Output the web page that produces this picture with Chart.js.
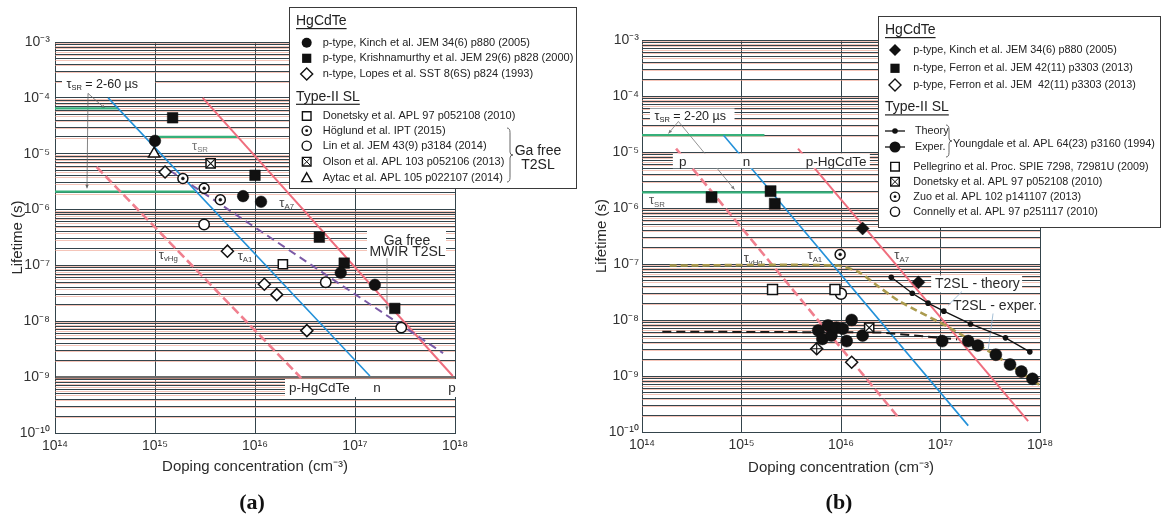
<!DOCTYPE html>
<html>
<head>
<meta charset="utf-8">
<script src="https://cdn.jsdelivr.net/npm/chart.js@4.4.0/dist/chart.umd.min.js"></script>
<style>
    body { margin: 0; background: #fff; width: 1161px; height: 515px; overflow: hidden; position: relative; }
    canvas { position: absolute; top: 0; }
    #chartA { left: 0; }
    #chartB { left: 580px; }
</style>
</head>
<body>
<canvas id="chartA" width="580" height="515"></canvas>
<canvas id="chartB" width="581" height="515"></canvas>
<script>
// ---- axes ----
const xDecades = [14, 15, 16, 17, 18];
const yDecades = [-10, -9, -8, -7, -6, -5, -4, -3];

// ---- panel (a) data: [doping cm-3, lifetime s] ----
const aKinch = [[1.0e15, 1.7e-5], [7.6e15, 1.74e-6], [1.15e16, 1.38e-6], [7.2e16, 7.4e-8], [1.58e17, 4.5e-8]];
const aKrishnamurthy = [[1.5e15, 4.4e-5], [1.0e16, 4.1e-6], [4.4e16, 3.2e-7], [7.8e16, 1.1e-7], [2.5e17, 1.7e-8]];
const aLopes = [[1.26e15, 4.7e-6], [5.3e15, 1.8e-7], [1.24e16, 4.6e-8], [1.65e16, 3.0e-8], [3.3e16, 6.8e-9]];
const aDonetsky = [[1.9e16, 1.05e-7]];
const aHoglund = [[1.9e15, 3.6e-6], [3.1e15, 2.4e-6], [4.5e15, 1.5e-6]];
const aLin = [[3.1e15, 5.4e-7], [5.1e16, 5.0e-8], [2.9e17, 7.7e-9]];
const aOlson = [[3.6e15, 6.7e-6]];
const aAytac = [[9.8e14, 1.0e-5]];

const aSRHigh = [[1e14, 6.5e-5], [4.3e14, 6.5e-5]];
const aSRMid = [[1e15, 2e-5], [6.6e15, 2e-5]];
const aSRLow = [[1e14, 2.1e-6], [2.5e15, 2.1e-6]];
const aTauA1 = [[3.4e14, 1e-4], [1.41e17, 1.05e-9]];
const aTauA7 = [[3.0e15, 1.0e-4], [9.5e17, 1.05e-9]];
const aTauVHg = [[2.6e14, 5.8e-6], [2.9e16, 9.6e-10]];
const aGaFreeTrend = [[1.41e15, 5.0e-6], [7.6e17, 2.7e-9]];

// ---- panel (b) data ----
const bKinch = [[1.65e16, 4.3e-7], [6.0e16, 4.7e-8]];
const bFerronN = [[5.0e14, 1.56e-6], [1.96e15, 2.0e-6], [2.16e15, 1.19e-6]];
const bFerronP = [[5.7e15, 3.06e-9], [1.28e16, 1.76e-9]];
const bTheory = [[3.2e16, 5.8e-8], [5.2e16, 3.0e-8], [7.5e16, 2.0e-8], [1.08e17, 1.44e-8], [2.0e17, 8.5e-9], [4.5e17, 4.8e-9], [7.9e17, 2.7e-9]];
const bExper = [[5.9e15, 6.5e-9], [7.4e15, 8.0e-9], [6.5e15, 4.6e-9], [8.0e15, 5.3e-9], [9.0e15, 7.3e-9], [1.04e16, 7.0e-9],
                [1.28e16, 1.0e-8], [1.14e16, 4.2e-9], [1.65e16, 5.3e-9], [1.04e17, 4.2e-9], [1.9e17, 4.2e-9], [2.37e17, 3.5e-9],
                [3.6e17, 2.4e-9], [5.0e17, 1.6e-9], [6.5e17, 1.2e-9], [8.4e17, 8.9e-10]];
const bPellegrino = [[2.05e15, 3.5e-8], [8.7e15, 3.5e-8]];
const bDonetsky = [[1.92e16, 7.3e-9]];
const bZuo = [[9.8e15, 1.48e-7]];
const bConnelly = [[1.0e16, 2.94e-8]];

const bSRHigh = [[1e14, 2.0e-5], [1.7e15, 2.0e-5]];
const bSRLow = [[1e14, 1.9e-6], [8.3e15, 1.9e-6]];
const bTauA1 = [[6.6e14, 2.0e-5], [1.9e17, 1.3e-10]];
const bTauVHg = [[2.2e14, 1.15e-5], [3.9e16, 1.7e-10]];
const bTauA7 = [[3.7e15, 1.15e-5], [7.6e17, 1.56e-10]];
const bT2SLExper = [[1.9e14, 9.4e-8], [9.0e15, 9.4e-8], [1.5e16, 7.2e-8], [2.46e16, 3.8e-8], [3.9e16, 2.14e-8],
                    [1.23e17, 7.3e-9], [4.0e17, 2.05e-9], [1e18, 6.8e-10]];
const bExperTrend = [[1.6e14, 6.2e-9], [2.46e16, 6.0e-9], [1.47e17, 4.5e-9]];

// ---- styles ----
const FONT = "'Liberation Sans', Arial, sans-serif";
const INK = '#111';
const GRID = '#34444b';
const TINT = 'rgba(236,150,128,0.55)';
const GREEN = '#35b07a', BLUE = '#2391d9', PINK = '#ef6e7e', PINK_D = '#f07f8e';
const PURPLE = '#7b5aa6', OLIVE = '#ab9b4e', LEADER = '#8fb0cc';

const SUP = { '0': '⁰', '1': '¹', '2': '²', '3': '³', '4': '⁴', '5': '⁵', '6': '⁶', '7': '⁷', '8': '⁸', '9': '⁹', '-': '⁻' };
const sup = n => String(n).split('').map(c => SUP[c]).join('');
const pts = arr => arr.map(([x, y]) => ({ x, y }));

function marks(data, style, r, filled, extra) {
    return Object.assign({
        data: pts(data), showLine: false, pointStyle: style, pointRadius: r, pointHoverRadius: r,
        pointBackgroundColor: filled ? INK : '#fff', pointBorderColor: INK, pointBorderWidth: filled ? 0.5 : 1.5
    }, extra || {});
}
function curve(data, color, width, dash, extra) {
    return Object.assign({
        data: pts(data), showLine: true, borderColor: color, borderWidth: width, borderDash: dash || [],
        pointRadius: 0, pointHoverRadius: 0, fill: false
    }, extra || {});
}

function yTicks() {
    const t = [];
    for (let e = yDecades[0]; e < yDecades[yDecades.length - 1]; e++)
        for (let m = 1; m < 10; m++) t.push({ value: m * Math.pow(10, e) });
    t.push({ value: Math.pow(10, yDecades[yDecades.length - 1]) });
    return t;
}
const isDecade = v => Math.abs(Math.log10(v) - Math.round(Math.log10(v))) < 1e-6;

// ---- drawing helpers ----
function tau(ctx, x, y, sub, size, color, tail, align) {
    const f1 = `${size}px ${FONT}`, f2 = `${(size * 0.6).toFixed(1)}px ${FONT}`;
    ctx.textBaseline = 'middle';
    ctx.textAlign = 'left';
    ctx.fillStyle = color;
    ctx.font = f1; const w1 = ctx.measureText('τ').width;
    const w3 = tail ? ctx.measureText(tail).width : 0;
    ctx.font = f2; const w2 = ctx.measureText(sub).width;
    const x0 = align === 'center' ? x - (w1 + w2 + w3) / 2 : x;
    ctx.font = f1; ctx.fillText('τ', x0, y);
    ctx.font = f2; ctx.fillText(sub, x0 + w1, y + size * 0.3);
    if (tail) { ctx.font = f1; ctx.fillText(tail, x0 + w1 + w2, y); }
}

function arrowHead(ctx, x0, y0, x1, y1) {
    const a = Math.atan2(y1 - y0, x1 - x0), L = 4;
    ctx.beginPath();
    ctx.moveTo(x1, y1);
    ctx.lineTo(x1 - L * Math.cos(a - 0.45), y1 - L * Math.sin(a - 0.45));
    ctx.lineTo(x1 - L * Math.cos(a + 0.45), y1 - L * Math.sin(a + 0.45));
    ctx.closePath();
    ctx.fill();
}

function drawAnnots(chart, list) {
    const { ctx, scales: { x, y } } = chart;
    const X = lx => x.getPixelForValue(Math.pow(10, lx));
    const Y = ly => y.getPixelForValue(Math.pow(10, ly));
    ctx.save();
    list.forEach(a => {
        if (a.t === 'box') {
            ctx.fillStyle = '#fff';
            ctx.fillRect(X(a.x1), Y(a.y1), X(a.x2) - X(a.x1), Y(a.y2) - Y(a.y1));
        } else if (a.t === 'text') {
            ctx.fillStyle = a.color || '#2a2a2a';
            ctx.font = `${a.size || 14}px ${FONT}`;
            ctx.textAlign = a.align || 'left';
            ctx.textBaseline = 'middle';
            ctx.fillText(a.text, X(a.lx), Y(a.ly));
        } else if (a.t === 'tau') {
            tau(ctx, X(a.lx), Y(a.ly), a.sub, a.size || 13, a.color || '#444', a.tail, a.align || 'center');
        } else if (a.t === 'line') {
            ctx.strokeStyle = a.color || '#777';
            ctx.fillStyle = a.color || '#777';
            ctx.lineWidth = a.width || 0.8;
            ctx.beginPath();
            a.pts.forEach(([lx, ly], i) => i ? ctx.lineTo(X(lx), Y(ly)) : ctx.moveTo(X(lx), Y(ly)));
            ctx.stroke();
            if (a.arrow) {
                const p = a.pts[a.pts.length - 2], q = a.pts[a.pts.length - 1];
                arrowHead(ctx, X(p[0]), Y(p[1]), X(q[0]), Y(q[1]));
            }
        }
    });
    ctx.restore();
}

function drawMark(ctx, k, x, y, r) {
    ctx.save();
    ctx.lineWidth = 1.4;
    ctx.strokeStyle = INK;
    ctx.fillStyle = INK;
    ctx.beginPath();
    if (k === 'dot') { ctx.arc(x, y, r, 0, 2 * Math.PI); ctx.fill(); }
    else if (k === 'sq') { ctx.fillRect(x - r, y - r, 2 * r, 2 * r); }
    else if (k === 'fdia' || k === 'odia') {
        ctx.moveTo(x, y - r); ctx.lineTo(x + r, y); ctx.lineTo(x, y + r); ctx.lineTo(x - r, y); ctx.closePath();
        if (k === 'fdia') ctx.fill(); else { ctx.fillStyle = '#fff'; ctx.fill(); ctx.stroke(); }
    }
    else if (k === 'osq' || k === 'xsq') {
        ctx.rect(x - r, y - r, 2 * r, 2 * r); ctx.stroke();
        if (k === 'xsq') {
            ctx.lineWidth = 1; ctx.beginPath();
            ctx.moveTo(x - r, y - r); ctx.lineTo(x + r, y + r); ctx.moveTo(x + r, y - r); ctx.lineTo(x - r, y + r); ctx.stroke();
        }
    }
    else if (k === 'ocir' || k === 'cdot') {
        ctx.arc(x, y, r, 0, 2 * Math.PI); ctx.stroke();
        if (k === 'cdot') { ctx.beginPath(); ctx.arc(x, y, 1.4, 0, 2 * Math.PI); ctx.fill(); }
    }
    else if (k === 'tri') {
        ctx.moveTo(x, y - r); ctx.lineTo(x + r * 0.9, y + r * 0.6); ctx.lineTo(x - r * 0.9, y + r * 0.6); ctx.closePath(); ctx.stroke();
    }
    else if (k === 'lineDot') {
        ctx.lineWidth = 1.3;
        ctx.moveTo(x - 10, y); ctx.lineTo(x + 10, y); ctx.stroke();
        ctx.beginPath(); ctx.arc(x, y, r, 0, 2 * Math.PI); ctx.fill();
    }
    ctx.restore();
}

function brace(ctx, x, y1, y2, w) {
    const m = (y1 + y2) / 2;
    ctx.beginPath();
    ctx.moveTo(x, y1);
    ctx.quadraticCurveTo(x + w, y1, x + w, y1 + w * 1.5);
    ctx.lineTo(x + w, m - w);
    ctx.quadraticCurveTo(x + w, m, x + 2 * w, m);
    ctx.quadraticCurveTo(x + w, m, x + w, m + w);
    ctx.lineTo(x + w, y2 - w * 1.5);
    ctx.quadraticCurveTo(x + w, y2, x, y2);
    ctx.stroke();
}

function drawLegend(ctx, L) {
    ctx.save();
    ctx.fillStyle = '#fff';
    ctx.fillRect(L.x, L.y, L.w, L.h);
    ctx.strokeStyle = '#3a3a3a';
    ctx.lineWidth = 1;
    ctx.strokeRect(L.x + 0.5, L.y + 0.5, L.w, L.h);
    ctx.textBaseline = 'middle';
    ctx.textAlign = 'left';
    L.rows.forEach(r => {
        ctx.fillStyle = '#222';
        if (r.head) {
            ctx.font = `14px ${FONT}`;
            ctx.fillText(r.head, L.hx, r.y);
            const w = ctx.measureText(r.head).width;
            ctx.fillRect(L.hx, r.y + 7, w, 1.2);
        } else {
            drawMark(ctx, r.mark, L.mx, r.y, r.r);
            ctx.fillStyle = '#222';
            ctx.font = `${L.size}px ${FONT}`;
            ctx.fillText(r.label, r.tx || L.tx, r.y);
        }
    });
    ctx.strokeStyle = '#555';
    ctx.lineWidth = 0.9;
    brace(ctx, L.brace.x, L.brace.y1, L.brace.y2, 3);
    ctx.fillStyle = '#222';
    L.notes.forEach(n => {
        ctx.font = `${n.size}px ${FONT}`;
        ctx.textAlign = n.align || 'left';
        ctx.fillText(n.text, n.x, n.y);
    });
    ctx.restore();
}

function makeDecor(p) {
    return {
        id: 'decor',
        beforeDatasetsDraw(chart) {
            const { ctx, chartArea: ca, scales: { y } } = chart;
            ctx.save();
            ctx.strokeStyle = TINT;
            ctx.lineWidth = 1;
            y.ticks.forEach(t => {
                const py = Math.round(y.getPixelForValue(t.value)) + 1.5;
                if (py > ca.bottom) return;
                ctx.beginPath(); ctx.moveTo(ca.left, py); ctx.lineTo(ca.right, py); ctx.stroke();
            });
            ctx.restore();
            drawAnnots(chart, p.annots.filter(a => !a.front));
        },
        afterDatasetsDraw(chart) {
            drawAnnots(chart, p.annots.filter(a => a.front));
        },
        afterDraw(chart) {
            const ctx = chart.ctx;
            drawLegend(ctx, p.legend);
            ctx.save();
            ctx.fillStyle = '#111';
            ctx.font = "bold 22px 'Liberation Serif', 'Times New Roman', serif";
            ctx.textAlign = 'center';
            ctx.textBaseline = 'middle';
            ctx.fillText(p.panel.text, p.panel.x, p.panel.y);
            ctx.restore();
        }
    };
}

function makeChart(id, p) {
    return new Chart(document.getElementById(id), {
        type: 'scatter',
        data: { datasets: p.datasets },
        options: {
            responsive: false,
            animation: false,
            events: [],
            layout: { padding: p.padding },
            plugins: { legend: { display: false }, tooltip: { enabled: false } },
            scales: {
                x: {
                    type: 'logarithmic', min: 1e14, max: 1e18,
                    afterBuildTicks: s => { s.ticks = xDecades.map(e => ({ value: Math.pow(10, e) })); },
                    afterFit: s => { s.height = 50; },
                    grid: { color: GRID, lineWidth: 1, drawTicks: false },
                    border: { color: GRID, width: 1 },
                    ticks: {
                        autoSkip: false, maxRotation: 0, padding: 5, color: '#333', font: { family: FONT, size: 14 },
                        callback: v => '10' + sup(Math.round(Math.log10(v)))
                    },
                    title: {
                        display: true, text: 'Doping concentration (cm⁻³)', color: '#2a2a2a',
                        font: { family: FONT, size: 15 }, padding: { top: 0, bottom: p.xTitlePad }
                    }
                },
                y: {
                    type: 'logarithmic', min: 1e-10, max: 1e-3,
                    afterBuildTicks: s => { s.ticks = yTicks(); },
                    afterFit: s => { s.width = p.yWidth; },
                    grid: {
                        drawTicks: false,
                        color: c => (p.thick && c.tick && Math.abs(Math.log10(c.tick.value) - p.thick) < 1e-6) ? '#6d6d6d' : GRID,
                        lineWidth: c => (p.thick && c.tick && Math.abs(Math.log10(c.tick.value) - p.thick) < 1e-6) ? 3 : 1
                    },
                    border: { color: GRID, width: 1 },
                    ticks: {
                        autoSkip: false, padding: p.yTickPad, color: '#333', font: { family: FONT, size: 14 },
                        callback: v => isDecade(v) ? '10' + sup(Math.round(Math.log10(v))) : ''
                    },
                    title: {
                        display: true, text: 'Lifetime (s)', color: '#2a2a2a',
                        font: { family: FONT, size: 15 }, padding: { top: 0, bottom: 0 }
                    }
                }
            }
        },
        plugins: [makeDecor(p)]
    });
}

// ---- panel (a) ----
makeChart('chartA', {
    padding: { left: 9, top: 42, right: 125, bottom: 32 },
    yWidth: 46, yTickPad: 5, xTitlePad: 7, thick: -9,
    datasets: [
        marks(aHoglund, 'circle', 1.5, true),
        marks(aHoglund, 'circle', 5, false),
        marks(aOlson, 'crossRot', 6.5, false, { pointBorderWidth: 1.1 }),
        marks(aOlson, 'rect', 6.5, false),
        marks(aKinch, 'circle', 5.8, true),
        marks(aKrishnamurthy, 'rect', 7.5, true),
        marks(aLopes, 'rectRot', 6, false),
        marks(aDonetsky, 'rect', 6.5, false),
        marks(aLin, 'circle', 5.2, false),
        marks(aAytac, 'triangle', 6.5, false),
        curve(aGaFreeTrend, PURPLE, 2, [8, 5]),
        curve(aTauVHg, PINK_D, 2.6, [9, 4]),
        curve(aTauA7, PINK, 2),
        curve(aTauA1, BLUE, 1.6),
        curve(aSRHigh, GREEN, 2.2),
        curve(aSRMid, GREEN, 2.2),
        curve(aSRLow, GREEN, 2.2)
    ],
    annots: [
        { t: 'box', x1: 14.07, x2: 15.0, y1: -3.60, y2: -3.90 },
        { t: 'tau', lx: 14.115, ly: -3.757, sub: 'SR', size: 12.5, color: '#222', tail: ' = 2-60 µs', align: 'left' },
        { t: 'line', pts: [[14.33, -3.92], [14.50, -4.19]], arrow: true, color: '#666' },
        { t: 'line', pts: [[14.33, -3.92], [14.32, -5.62]], arrow: true, color: '#666' },
        { t: 'tau', lx: 15.45, ly: -4.866, sub: 'SR', color: '#777' },
        { t: 'tau', lx: 16.317, ly: -5.89, sub: 'A7' },
        { t: 'tau', lx: 15.133, ly: -6.816, sub: 'vHg' },
        { t: 'tau', lx: 15.9, ly: -6.83, sub: 'A1' },
        { t: 'box', x1: 17.12, x2: 17.91, y1: -6.33, y2: -6.87 },
        { t: 'text', lx: 17.52, ly: -6.57, text: 'Ga free', align: 'center', size: 14 },
        { t: 'text', lx: 17.525, ly: -6.757, text: 'MWIR T2SL', align: 'center', size: 14 },
        { t: 'line', pts: [[17.32, -6.87], [17.32, -7.80]], arrow: true, color: '#777' },
        { t: 'box', x1: 16.30, x2: 18.03, y1: -9.034, y2: -9.356, front: true },
        { t: 'text', lx: 16.34, ly: -9.195, text: 'p-HgCdTe', size: 13.5, front: true },
        { t: 'text', lx: 17.22, ly: -9.195, text: 'n', size: 13.5, align: 'center', front: true },
        { t: 'text', lx: 17.97, ly: -9.195, text: 'p', size: 13.5, align: 'center', front: true }
    ],
    legend: {
        x: 289, y: 7, w: 287, h: 181, hx: 296, mx: 306.7, tx: 322.7, size: 11,
        rows: [
            { head: 'HgCdTe', y: 21 },
            { mark: 'dot', r: 5, label: 'p-type, Kinch et al. JEM 34(6) p880 (2005)', y: 42.7 },
            { mark: 'sq', r: 4.6, label: 'p-type, Krishnamurthy et al. JEM 29(6) p828 (2000)', y: 58.3 },
            { mark: 'odia', r: 6, label: 'n-type, Lopes et al. SST 8(6S) p824 (1993)', y: 74 },
            { head: 'Type-II SL', y: 96.7 },
            { mark: 'osq', r: 4.3, label: 'Donetsky et al. APL 97 p052108 (2010)', y: 116 },
            { mark: 'cdot', r: 4.6, label: 'Höglund et al. IPT (2015)', y: 130.7 },
            { mark: 'ocir', r: 4.6, label: 'Lin et al. JEM 43(9) p3184 (2014)', y: 145.7 },
            { mark: 'xsq', r: 4.3, label: 'Olson et al. APL 103 p052106 (2013)', y: 161.7 },
            { mark: 'tri', r: 5.5, label: 'Aytac et al. APL 105 p022107 (2014)', y: 178.3 }
        ],
        brace: { x: 507, y1: 128, y2: 182 },
        notes: [
            { text: 'Ga free', x: 538, y: 150.7, size: 14, align: 'center' },
            { text: 'T2SL', x: 538, y: 165, size: 14, align: 'center' }
        ]
    },
    panel: { text: '(a)', x: 252, y: 503 }
});

// ---- panel (b) ----
makeChart('chartB', {
    padding: { left: 13, top: 40, right: 121, bottom: 33 },
    yWidth: 49, yTickPad: 3, xTitlePad: 5, thick: null,
    datasets: [
        marks(bZuo, 'circle', 1.5, true),
        marks(bZuo, 'circle', 5, false),
        marks(bDonetsky, 'crossRot', 6.5, false, { pointBorderWidth: 1.1 }),
        marks(bDonetsky, 'rect', 6.5, false),
        marks(bFerronP.slice(0, 1), 'cross', 6, false, { pointBorderWidth: 1.1 }),
        marks(bFerronP, 'rectRot', 6, false),
        marks(bKinch, 'rectRot', 6.5, true),
        marks(bFerronN, 'rect', 7.8, true),
        marks(bExper, 'circle', 6, true),
        marks(bPellegrino, 'rect', 7, false),
        marks(bConnelly, 'circle', 5.5, false),
        curve(bTheory, INK, 1.3, [], { pointRadius: 2.8, pointHoverRadius: 2.8, pointBackgroundColor: INK, pointBorderWidth: 0 }),
        curve(bExperTrend, '#1a1a1a', 2, [9, 5]),
        curve(bT2SLExper, OLIVE, 2.6, [7, 4], { tension: 0.25 }),
        curve(bTauA7, PINK, 2),
        curve(bTauVHg, PINK_D, 2.6, [9, 4]),
        curve(bTauA1, BLUE, 1.6),
        curve(bSRHigh, GREEN, 2.2),
        curve(bSRLow, GREEN, 2.2)
    ],
    annots: [
        { t: 'box', x1: 14.08, x2: 14.93, y1: -4.223, y2: -4.49 },
        { t: 'tau', lx: 14.125, ly: -4.366, sub: 'SR', size: 12.5, color: '#222', tail: ' = 2-20 µs', align: 'left' },
        { t: 'line', pts: [[14.366, -4.455], [14.266, -4.67]], arrow: true, color: '#777' },
        { t: 'line', pts: [[14.366, -4.455], [14.93, -5.67]], arrow: true, color: '#777' },
        { t: 'box', x1: 14.31, x2: 16.29, y1: -5.027, y2: -5.29, front: true },
        { t: 'text', lx: 14.41, ly: -5.19, text: 'p', size: 13.5, align: 'center', front: true },
        { t: 'text', lx: 15.05, ly: -5.19, text: 'n', size: 13.5, align: 'center', front: true },
        { t: 'text', lx: 15.645, ly: -5.19, text: 'p-HgCdTe', size: 13.5, front: true },
        { t: 'tau', lx: 14.15, ly: -5.866, sub: 'SR', color: '#555' },
        { t: 'tau', lx: 15.117, ly: -6.907, sub: 'vHg' },
        { t: 'tau', lx: 15.737, ly: -6.848, sub: 'A1' },
        { t: 'tau', lx: 16.61, ly: -6.848, sub: 'A7' },
        { t: 'box', x1: 16.906, x2: 17.82, y1: -7.205, y2: -7.509 },
        { t: 'text', lx: 16.945, ly: -7.354, text: 'T2SL - theory', size: 14 },
        { t: 'box', x1: 17.1, x2: 17.99, y1: -7.616, y2: -7.88 },
        { t: 'text', lx: 17.125, ly: -7.76, text: 'T2SL - exper.', size: 14 },
        { t: 'line', pts: [[17.216, -7.491], [17.075, -7.741]], color: LEADER },
        { t: 'line', pts: [[17.528, -7.884], [17.478, -8.545]], color: LEADER }
    ],
    legend: {
        x: 298, y: 16, w: 282, h: 211, hx: 305, mx: 315, tx: 333.3, size: 10.8,
        rows: [
            { head: 'HgCdTe', y: 30 },
            { mark: 'fdia', r: 6, label: 'p-type, Kinch et al. JEM 34(6) p880 (2005)', y: 50 },
            { mark: 'sq', r: 4.6, label: 'n-type, Ferron et al. JEM 42(11) p3303 (2013)', y: 68.3 },
            { mark: 'odia', r: 6, label: 'p-type, Ferron et al. JEM  42(11) p3303 (2013)', y: 85 },
            { head: 'Type-II SL', y: 107.3 },
            { mark: 'lineDot', r: 2.8, label: 'Theory', y: 131, tx: 335 },
            { mark: 'lineDot', r: 5.5, label: 'Exper.', y: 147, tx: 335 },
            { mark: 'osq', r: 4.3, label: 'Pellegrino et al. Proc. SPIE 7298, 72981U (2009)', y: 166.7 },
            { mark: 'xsq', r: 4.3, label: 'Donetsky et al. APL 97 p052108 (2010)', y: 181.7 },
            { mark: 'cdot', r: 4.6, label: 'Zuo et al. APL 102 p141107 (2013)', y: 196.7 },
            { mark: 'ocir', r: 4.6, label: 'Connelly et al. APL 97 p251117 (2010)', y: 211.7 }
        ],
        brace: { x: 366, y1: 125, y2: 157 },
        notes: [
            { text: 'Youngdale et al. APL 64(23) p3160 (1994)', x: 373, y: 144, size: 10.8 }
        ]
    },
    panel: { text: '(b)', x: 259, y: 503 }
});
</script>
</body>
</html>
